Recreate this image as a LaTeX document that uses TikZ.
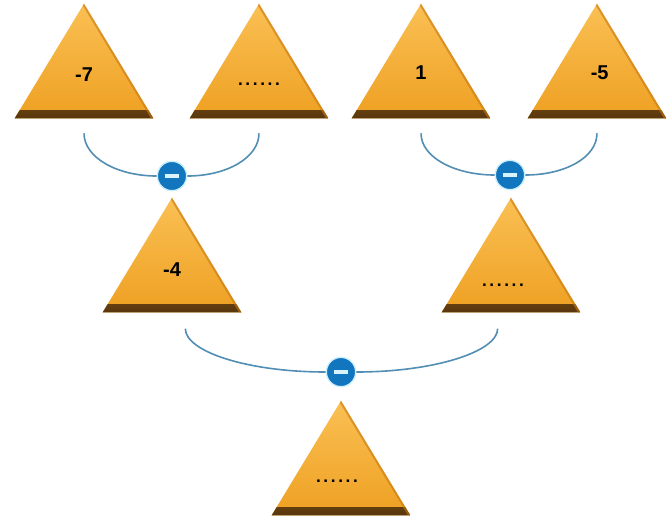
\documentclass[tikz,border=0pt]{standalone}
\usepackage{fontspec}
\setmainfont{Liberation Sans}
\usetikzlibrary{positioning,shapes.geometric}
\definecolor{trilight}{RGB}{250,192,84}
\definecolor{trimain}{RGB}{238,160,34}
\definecolor{triedge}{RGB}{200,120,18}
\definecolor{tribase}{RGB}{88,54,14}
\definecolor{minusblue}{RGB}{18,118,190}
\definecolor{linkblue}{RGB}{82,142,180}
\begin{document}
\begin{tikzpicture}[x=0.75pt,y=-0.75pt,
      tri/.style={
        % The shape:
        isosceles triangle,isosceles triangle stretches,shape border rotate=90,
        minimum width=104pt,minimum height=86pt,inner sep=0pt,anchor=apex,
        % The rest
        top color=trilight,bottom color=trimain,
        path picture={
          \shade[top color=trimain,bottom color=tribase]
            ([yshift=6pt]path picture bounding box.south west) rectangle (path picture bounding box.south east);
          \draw[triedge,line width=3pt,opacity=.6]
            (path picture bounding box.north) -- (path picture bounding box.south east);}},
      num/.style={font=\bfseries\fontsize{15}{15}\selectfont,inner sep=0pt},
      blank/.style={num,font=\bfseries\fontsize{13}{13}\selectfont\addfontfeatures{LetterSpace=15}},
      minus/.style={circle,fill=minusblue,draw=cyan!20,line width=1pt,minimum size=22pt,inner sep=0pt},
      link/.style={linkblue,line width=1.2pt}]
    \useasboundingbox (0,0) rectangle (669,522);

    % top row
    \node(t1)[tri] at (84,3) {};
    \node(v1)[num, below=48pt, at=(t1.apex)]{-7};
    \node(t2)[tri] at (259,3) {};
    \node(v2)[blank, below=60pt, at=(t2.apex)]{......};
    \node(t3)[tri] at (421,3) {};
    \node(v3)[num, below=47pt, at=(t3.apex)]{1};
    \node(t4)[tri] at (597,3) {};
    \node(v4)[num, below=47pt, at=(t4.apex), xshift=2pt]{-5};

    % middle row
    \node(t5)[tri] at (172,197) {};
    \node(v5)[num, below=49pt, at=(t5.apex)]{-4};
    \node(t6)[tri] at (511,197) {};
    \node(v6)[blank, below=65pt, at=(t6.apex), xshift=-6pt]{......};

    % bottom
    \node(t7)[tri] at (341,400) {};
    \node(v7)[blank, below=60pt, at=(t7.apex), xshift=-3pt]{......};

    % minus signs
    \node(m1)[minus] at (172,176) {\color{white!85!cyan}\rule{11pt}{3pt}};
    \node(m2)[minus] at (510,175) {\color{white!85!cyan}\rule{11pt}{3pt}};
    \node(m3)[minus] at (341,372) {\color{white!85!cyan}\rule{11pt}{3pt}};

    \coordinate(a1) at ([yshift=-11pt]t1.lower side);
    \coordinate(a2) at ([yshift=-11pt]t2.lower side);
    \coordinate(a3) at ([yshift=-11pt]t3.lower side);
    \coordinate(a4) at ([yshift=-11pt]t4.lower side);
    \coordinate(a5) at ([xshift=10pt,yshift=-12pt]t5.lower side);
    \coordinate(a6) at ([xshift=-10pt,yshift=-12pt]t6.lower side);

    \draw[link] (a1) .. controls +(0,24) and +(-40,0) .. (m1.west);
    \draw[link] (m1.east) .. controls +(40,0) and +(0,24) .. (a2);
    \draw[link] (a3) .. controls +(0,24) and +(-40,0) .. (m2.west);
    \draw[link] (m2.east) .. controls +(40,0) and +(0,24) .. (a4);
    \draw[link] (a5) .. controls +(0,23) and +(-78,0) .. (m3.west);
    \draw[link] (m3.east) .. controls +(78,0) and +(0,23) .. (a6);

  \end{tikzpicture}
\end{document}
